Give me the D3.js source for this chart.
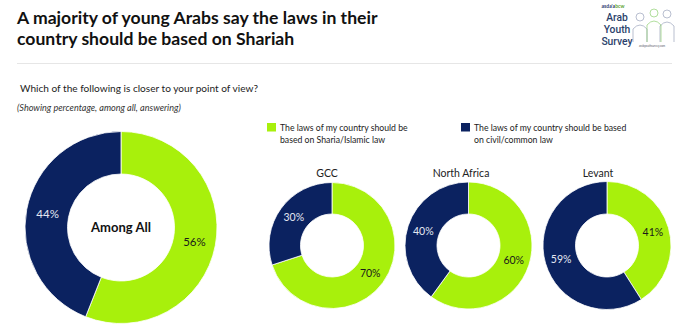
<!DOCTYPE html>
<html><head><meta charset="utf-8">
<script src="https://cdn.jsdelivr.net/npm/d3@7"></script>
<style>html,body{margin:0;padding:0;background:#fff;}svg{display:block;}</style>
</head><body>
<svg id="c" width="696" height="328"></svg>
<script>
const groups = ["Among All", "GCC", "North Africa", "Levant"];
const shariaValues = [56, 70, 60, 41];
const civilValues = [44, 30, 40, 59];
const seriesNames = ["The laws of my country should be based on Sharia/Islamic law", "The laws of my country should be based on civil/common law"];
const titleLines = ["A majority of young Arabs say the laws in their", "country should be based on Shariah"];
const subtitle = "Which of the following is closer to your point of view?";
const note = "(Showing percentage, among all, answering)";

const GREEN = "#a8f00c", NAVY = "#0b2260";
const svg = d3.select("#c");
const font = "Lato, 'Open Sans', sans-serif";

// Title
svg.append("text").attr("x", 17).attr("font-family", font).attr("font-weight", 700)
  .attr("font-size", 17.6).attr("fill", "#111")
  .selectAll("tspan").data(titleLines).join("tspan")
  .attr("x", 17).attr("y", (d, i) => 24 + i * 20.5).text(d => d);

svg.append("line").attr("x1", 17).attr("x2", 672).attr("y1", 63.5).attr("y2", 63.5)
  .attr("stroke", "#e6e6e6").attr("stroke-width", 1);

svg.append("text").attr("x", 20).attr("y", 91.5).attr("font-family", font)
  .attr("font-size", 10.1).attr("fill", "#222").text(subtitle);
svg.append("text").attr("x", 17).attr("y", 111).attr("font-family", font)
  .attr("font-style", "italic").attr("font-size", 9.1).attr("fill", "#333").text(note);

// Logo
const logo = svg.append("g");
logo.append("text").attr("x", 613).attr("y", 8).attr("text-anchor", "middle")
  .attr("font-family", font).attr("font-weight", 700).attr("font-size", 5)
  .html('<tspan fill="#1f3b6e">asda\'a</tspan><tspan fill="#5aa02c">bcw</tspan>');
["Arab", "Youth", "Survey"].forEach((t, i) => {
  logo.append("text").attr("x", 617).attr("y", 21 + i * 11.8).attr("text-anchor", "middle")
    .attr("font-family", "'Liberation Sans Narrow', 'Roboto', sans-serif").attr("font-size", 10.3)
    .attr("font-weight", 500).attr("fill", "#2b3f6b").text(t);
});
logo.append("text").attr("x", 652).attr("y", 47).attr("text-anchor", "middle")
  .attr("font-family", font).attr("font-size", 2.8).attr("fill", "#556").text("arabyouthsurvey.com");
const fig = (cx, cy, col) => {
  logo.append("circle").attr("cx", cx).attr("cy", cy).attr("r", 4).attr("fill", "none").attr("stroke", col).attr("stroke-width", 0.6);
  logo.append("path").attr("d", `M${cx-7},42 L${cx-7},${cy+12} Q${cx},${cy+4} ${cx+7},${cy+12} L${cx+7},42`)
    .attr("fill", "none").attr("stroke", col).attr("stroke-width", 0.6);
};
fig(640, 17, "#8a94b0"); fig(667, 14, "#8a94b0"); fig(654, 13, "#7cc85a");

// Legend
const legend = svg.append("g");
const legendItems = [
  {x: 267, lines: ["The laws of my country should be", "based on Sharia/Islamic law"], color: GREEN},
  {x: 461, lines: ["The laws of my country should be based", "on civil/common law"], color: NAVY}
];
legendItems.forEach(it => {
  legend.append("rect").attr("x", it.x).attr("y", 123).attr("width", 9).attr("height", 8.5).attr("fill", it.color);
  it.lines.forEach((l, i) => legend.append("text").attr("x", it.x + 13).attr("y", 131 + i * 11.5)
    .attr("font-family", font).attr("font-size", 8.7).attr("fill", "#222").text(l));
});

// Donuts
const layout = [
  {cx: 121, cy: 227.5, r: 96, ri: 53.5, tx: null},
  {cx: 332, cy: 245.5, r: 63, ri: 31.5, tx: 327},
  {cx: 468.5, cy: 245.5, r: 63.5, ri: 31.5, tx: 461},
  {cx: 607, cy: 245.5, r: 64, ri: 31.5, tx: 598}
];
const pie = d3.pie().sort(null).value(d => d.v);
groups.forEach((g, i) => {
  const L = layout[i];
  const data = [{k: 0, v: shariaValues[i]}, {k: 1, v: civilValues[i]}];
  const arcs = pie(data);
  const arc = d3.arc().innerRadius(L.ri).outerRadius(L.r);
  const gg = svg.append("g").attr("transform", `translate(${L.cx},${L.cy})`);
  gg.selectAll("path").data(arcs).join("path").attr("d", arc)
    .attr("fill", d => d.data.k === 0 ? GREEN : NAVY)
    .attr("stroke", "#fff").attr("stroke-width", 0.8);
  const lab = d3.arc().innerRadius((L.ri + L.r) / 2).outerRadius((L.ri + L.r) / 2);
  gg.selectAll("text.p").data(arcs).join("text").attr("class", "p")
    .attr("transform", d => `translate(${lab.centroid(d)})`)
    .attr("text-anchor", "middle").attr("dy", "0.35em")
    .attr("font-family", font).attr("font-size", i === 0 ? 11.5 : 10.5)
    .attr("fill", d => d.data.k === 0 ? "#1a1a1a" : "#e4e8f2")
    .text(d => d.data.v + "%");
  if (i === 0) {
    gg.append("text").attr("text-anchor", "middle").attr("dy", "0.35em")
      .attr("font-family", font).attr("font-weight", 700).attr("font-size", 13).attr("fill", "#111").text(g);
  } else {
    svg.append("text").attr("x", L.tx).attr("y", 177).attr("text-anchor", "middle")
      .attr("font-family", font).attr("font-size", 10.5).attr("fill", "#222").text(g);
  }
});
</script>
</body></html>
